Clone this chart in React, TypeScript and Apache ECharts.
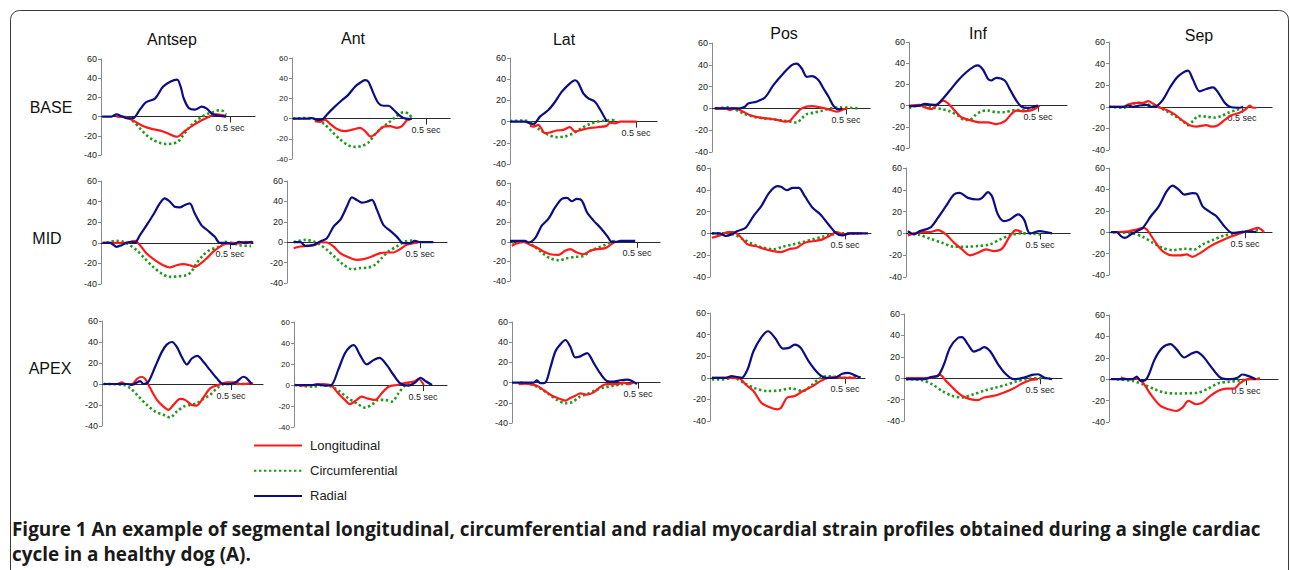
import React, { useEffect, useRef } from 'react';
import * as echarts from 'echarts';

// ---------------- categories / labels ----------------
const segments = ['Antsep', 'Ant', 'Lat', 'Pos', 'Inf', 'Sep'];
const levels = ['BASE', 'MID', 'APEX'];
const seriesNames = ['Longitudinal', 'Circumferential', 'Radial'];
const yTicks = { min: -40, max: 60, step: 20 };
const xTickValue = 0.5;
const xTickLabel = '0.5 sec';
const captionLines = [
  'Figure 1 An example of segmental longitudinal, circumferential and radial myocardial strain profiles obtained during a single cardiac',
  'cycle in a healthy dog (A).',
];

// ---------------- data: [time (s), strain (%)] ----------------
// BASE
const baseAntsepR = [[0.005,0],[0.04,0],[0.06,2.4],[0.08,0.3],[0.105,-2],[0.13,-0.7],[0.15,7],[0.175,15],[0.21,19],[0.24,31],[0.27,36.5],[0.295,38.5],[0.31,30],[0.32,19.5],[0.34,9],[0.365,7.3],[0.39,10.4],[0.41,8.3],[0.43,3],[0.46,0.7],[0.485,0]];
const baseAntsepL = [[0.06,0],[0.1,-0.7],[0.13,-5],[0.165,-10],[0.2,-13],[0.23,-14.6],[0.255,-17],[0.285,-20.5],[0.295,-21],[0.325,-15],[0.355,-9.4],[0.39,-3.8],[0.415,-0.7],[0.43,1.4],[0.445,2.4],[0.475,1.4],[0.485,0.3]];
const baseAntsepC = [[0.067,0],[0.1,-0.7],[0.125,-5],[0.15,-12],[0.175,-19],[0.2,-24],[0.23,-27.4],[0.255,-28.5],[0.28,-28],[0.3,-25.7],[0.32,-19],[0.34,-12],[0.365,-5],[0.39,-0.3],[0.415,3],[0.435,4.9],[0.46,6.6],[0.475,5.5],[0.485,2]];

const baseAntR = [[0.004,0],[0.066,0],[0.072,0.6],[0.0975,-1.6],[0.116,-0.3],[0.13,3.9],[0.154,10.4],[0.185,17.9],[0.21,23.5],[0.235,31.6],[0.254,35.5],[0.2725,38.1],[0.285,36.5],[0.304,25],[0.3225,15.3],[0.341,12.7],[0.36,12.7],[0.379,8.8],[0.3975,3.9],[0.416,0.6],[0.435,-0.3],[0.4475,0]];
const baseAntL = [[0.085,-2.6],[0.104,-3.3],[0.1225,-1],[0.141,-4.9],[0.166,-10],[0.1975,-12.4],[0.229,-10.7],[0.254,-9.1],[0.2725,-12.4],[0.294,-17.9],[0.316,-14],[0.341,-8.1],[0.366,-7.5],[0.391,-9.1],[0.41,-7.5],[0.429,-1.6],[0.441,-1]];
const baseAntC = [[0.004,0],[0.066,0.6],[0.0975,-1.6],[0.1225,-5.9],[0.1475,-12.4],[0.179,-20.5],[0.21,-26.4],[0.235,-28],[0.26,-27],[0.285,-23.8],[0.31,-15.6],[0.335,-9.1],[0.36,-4.2],[0.385,1.3],[0.416,6.2],[0.435,4.9],[0.4475,0.6]];

const baseLatR = [[0,0],[0.06,0],[0.086,-2.2],[0.099,-1.6],[0.119,4.7],[0.152,10.9],[0.179,18.75],[0.205,28],[0.238,36],[0.258,39],[0.271,36.6],[0.291,26.6],[0.311,21.9],[0.337,18.75],[0.357,11.6],[0.384,0]];
const baseLatL = [[0.079,-4],[0.093,-4.7],[0.112,-3.1],[0.139,-10.9],[0.159,-10.3],[0.185,-8.4],[0.212,-7.8],[0.238,-5.3],[0.258,-9.4],[0.284,-7.8],[0.311,-6.25],[0.344,-5.3],[0.384,-4],[0.397,-1],[0.417,-1.6],[0.437,0],[0.503,0]];
const baseLatC = [[0,0.6],[0.06,1],[0.086,-1.6],[0.119,-7.8],[0.152,-12.5],[0.185,-14.7],[0.218,-14],[0.251,-11],[0.284,-6.25],[0.317,-2.2],[0.35,0],[0.384,1],[0.403,1.6],[0.417,1]];

const basePosR = [[0.01,0],[0.104,0],[0.1225,1.5],[0.135,4.6],[0.166,6.1],[0.1975,10],[0.229,21.3],[0.266,32],[0.2975,39.6],[0.316,41],[0.335,36.6],[0.354,29],[0.3725,29.6],[0.3975,25.9],[0.416,18.3],[0.435,10.7],[0.454,2.1],[0.4725,-0.9],[0.485,0]];
const basePosL = [[0.01,0],[0.054,-0.3],[0.066,-1.5],[0.085,0],[0.116,-3],[0.141,-6.1],[0.179,-8.5],[0.216,-9.5],[0.2475,-10.7],[0.2725,-12.2],[0.291,-11.3],[0.31,-6.1],[0.335,0],[0.3725,2.1],[0.404,0.9],[0.435,-0.9],[0.466,-3],[0.485,-1.5],[0.504,0]];
const basePosC = [[0.016,0],[0.06,0.9],[0.085,-0.9],[0.116,-4.6],[0.154,-7.6],[0.191,-9.1],[0.229,-10],[0.266,-11.3],[0.2975,-12.2],[0.316,-13.1],[0.335,-9.1],[0.354,-5.2],[0.379,-4],[0.41,-2.1],[0.441,0],[0.479,0.9],[0.5475,0]];

const baseInfR = [[0,-0.6],[0.041,0],[0.061,1.6],[0.087,0.9],[0.106,0.6],[0.125,4.7],[0.158,14.2],[0.19,23.7],[0.222,31.5],[0.2545,37.2],[0.267,37.9],[0.287,33.8],[0.306,25.2],[0.319,23.7],[0.338,26.2],[0.371,23.7],[0.39,15.8],[0.416,4.7],[0.435,-0.9],[0.461,-2.2],[0.487,-0.9],[0.5,0]];
const baseInfL = [[0,0],[0.041,0.6],[0.061,-1.6],[0.087,-3.2],[0.112,1.6],[0.132,4.7],[0.151,2.2],[0.177,-4.7],[0.203,-11],[0.235,-13.6],[0.274,-15.8],[0.306,-15.8],[0.338,-17.4],[0.371,-14.8],[0.397,-7.9],[0.416,-4.7],[0.442,-5.4],[0.468,-4.7],[0.487,-3.2],[0.506,0]];
const baseInfC = [[0,-2.2],[0.035,0],[0.074,-0.9],[0.1,-2.2],[0.125,-3.2],[0.158,-5.4],[0.19,-9.5],[0.216,-13.6],[0.235,-13.6],[0.2545,-9.5],[0.28,-5.4],[0.306,-4.7],[0.338,-6.3],[0.371,-6.3],[0.397,-4.7],[0.422,-4.1],[0.455,-4.1],[0.487,-2.2]];

const baseSepR = [[0,0],[0.059,0],[0.071,1.2],[0.09,0],[0.115,1.2],[0.14,1.8],[0.159,0],[0.178,0.6],[0.203,6.7],[0.228,17.4],[0.253,26.5],[0.278,31.7],[0.297,33.5],[0.316,25],[0.341,14.3],[0.366,16.5],[0.391,18],[0.41,13.4],[0.435,3.7],[0.454,0],[0.491,-0.9],[0.504,0]];
const baseSepL = [[0,0],[0.053,0],[0.071,2.1],[0.103,3.7],[0.128,3.7],[0.147,5.2],[0.165,3],[0.184,0],[0.216,-3],[0.247,-7],[0.278,-13.1],[0.303,-17],[0.328,-18.3],[0.366,-17],[0.385,-18.3],[0.41,-17],[0.435,-12.2],[0.46,-7.9],[0.491,-5.5],[0.516,-1.8],[0.529,1.2],[0.541,-0.9],[0.554,-0.9]];
const baseSepC = [[0,0],[0.053,-0.9],[0.078,1.2],[0.103,3.7],[0.134,3],[0.159,1.2],[0.184,0],[0.216,-4],[0.247,-8.5],[0.278,-13.1],[0.297,-17],[0.316,-13.1],[0.335,-8.5],[0.366,-9.1],[0.397,-10],[0.423,-8.5],[0.448,-5.5],[0.479,-3],[0.504,-0.9]];

// MID
const midAntsepR = [[0.006,0],[0.035,0],[0.061,-3.9],[0.08,-2.3],[0.099,0],[0.119,1],[0.131,0],[0.151,7.5],[0.177,17.2],[0.202,27],[0.228,38.3],[0.247,43.2],[0.267,40],[0.286,35],[0.305,34.4],[0.325,36.7],[0.344,38.3],[0.363,28.6],[0.389,17.2],[0.415,11.7],[0.441,5.8],[0.46,0],[0.486,0],[0.512,-1.3],[0.537,1],[0.557,0],[0.582,1],[0.589,0]];
const midAntsepL = [[0.006,0],[0.099,0],[0.131,1.9],[0.151,-2.3],[0.177,-10.4],[0.209,-16.9],[0.241,-21.8],[0.267,-24],[0.293,-21.8],[0.318,-20.8],[0.344,-21.8],[0.363,-23.4],[0.383,-20.8],[0.409,-15.3],[0.434,-8.8],[0.46,-3.9],[0.479,-1.3],[0.512,0],[0.537,-0.6],[0.563,1],[0.582,-0.6]];
const midAntsepC = [[0.022,0],[0.061,1.9],[0.086,1],[0.112,-2.3],[0.138,-7.1],[0.17,-15.3],[0.202,-23.4],[0.235,-29.9],[0.267,-33.1],[0.299,-32.5],[0.331,-31.5],[0.35,-28.2],[0.37,-20.1],[0.396,-12],[0.421,-7.1],[0.454,-3.9],[0.479,1],[0.505,0],[0.537,-2.3],[0.582,-3.2]];

const midAntR = [[0.025,0],[0.05,0],[0.069,-3.6],[0.1,-2.6],[0.125,0.7],[0.15,3.9],[0.175,15.3],[0.2,21.8],[0.225,34.9],[0.244,44],[0.2625,41.4],[0.281,38.8],[0.3,39.7],[0.319,41.4],[0.3375,32.2],[0.3625,16.9],[0.3875,11.4],[0.4125,5.5],[0.4375,-1],[0.4625,-1],[0.48,1.3],[0.5,0],[0.55,0]];
const midAntL = [[0.025,-5.9],[0.05,-4.2],[0.081,-3.6],[0.106,-2.6],[0.125,0],[0.15,-0.3],[0.175,-4.2],[0.2,-10.7],[0.231,-14.7],[0.2625,-17.3],[0.2875,-16.6],[0.319,-14],[0.35,-10.7],[0.375,-10.1],[0.4,-10.1],[0.425,-6.8],[0.45,-2.6],[0.475,-1],[0.494,-0.3]];
const midAntC = [[0.025,0],[0.069,2.3],[0.1,0.7],[0.125,-2.6],[0.15,-7.5],[0.181,-14.7],[0.2125,-22.1],[0.244,-26.4],[0.275,-25.4],[0.306,-24.8],[0.331,-22.1],[0.356,-15.6],[0.381,-9.1],[0.4125,-4.2],[0.444,0.7],[0.469,1.6],[0.494,0]];

const midLatR = [[0,1],[0.059,1],[0.072,-0.7],[0.099,3.8],[0.125,16.4],[0.151,23.3],[0.178,35.3],[0.204,43.8],[0.224,44.9],[0.243,41.4],[0.263,43.8],[0.283,42.1],[0.303,30.1],[0.329,21.6],[0.355,14.7],[0.382,6.2],[0.401,0],[0.421,0],[0.434,1],[0.493,1]];
const midLatL = [[0.007,-4.1],[0.026,-1.7],[0.053,0],[0.079,-3.1],[0.105,-5.8],[0.132,-9.9],[0.158,-12.7],[0.191,-13.4],[0.217,-9.2],[0.237,-7.5],[0.263,-11],[0.289,-12.7],[0.316,-9.2],[0.342,-7.5],[0.375,-6.5],[0.395,-3.1],[0.414,0]];
const midLatC = [[0.007,-0.7],[0.059,0],[0.092,-4.1],[0.125,-11],[0.158,-16.8],[0.191,-18.8],[0.224,-16.8],[0.257,-15.4],[0.289,-14.4],[0.316,-9.2],[0.349,-5.8],[0.375,-3.1],[0.401,0.3],[0.421,1]];

const midPosR = [[0.007,0],[0.037,0],[0.058,-2.4],[0.08,-0.9],[0.102,2.1],[0.132,5.2],[0.161,15.9],[0.19,25],[0.219,37.2],[0.249,43.3],[0.263,42.7],[0.285,39.6],[0.307,41.8],[0.329,41.8],[0.351,34.1],[0.38,23.5],[0.409,17.4],[0.439,8.2],[0.468,0],[0.49,-1.8],[0.519,0],[0.585,0]];
const midPosL = [[0.007,-4],[0.037,-1.8],[0.066,1.2],[0.088,1.2],[0.11,-2.4],[0.139,-10.1],[0.168,-11.6],[0.205,-14.6],[0.234,-16.2],[0.263,-17.1],[0.292,-14.6],[0.322,-13.1],[0.351,-8.5],[0.387,-7],[0.417,-5.5],[0.446,-1.8],[0.468,1.2],[0.497,-0.9],[0.519,0],[0.563,0]];
const midPosC = [[0.007,0],[0.051,0],[0.088,-0.9],[0.124,-5.5],[0.161,-10.1],[0.197,-13.1],[0.234,-14.6],[0.27,-12.2],[0.307,-10.1],[0.344,-7.9],[0.38,-5.5],[0.417,-3],[0.453,-0.9],[0.49,0],[0.548,0]];

const midInfR = [[0.007,2.1],[0.03,-0.9],[0.052,2.1],[0.09,5.2],[0.119,14.3],[0.149,25],[0.179,35.7],[0.2,37.2],[0.231,32.6],[0.269,31.1],[0.284,32.6],[0.306,37.8],[0.321,34.1],[0.343,17.4],[0.366,11.3],[0.388,12.8],[0.418,17.4],[0.44,12.8],[0.463,0],[0.5,2.1],[0.522,1.2],[0.545,0]];
const midInfL = [[0.007,-1.8],[0.03,0],[0.06,1.2],[0.09,1.2],[0.119,3],[0.149,-0.9],[0.179,-8.5],[0.209,-14.6],[0.239,-20.1],[0.269,-17.7],[0.299,-14.6],[0.328,-16.2],[0.358,-14],[0.388,-2.4],[0.41,3],[0.433,1.2]];
const midInfC = [[0.007,0],[0.045,-0.9],[0.09,-4.9],[0.134,-8.5],[0.179,-12.2],[0.224,-12.2],[0.269,-11.6],[0.313,-10.1],[0.351,-5.5],[0.388,-1.8],[0.425,0],[0.463,0],[0.5,-0.9]];

const midSepR = [[0.007,0],[0.029,0],[0.044,-3.7],[0.058,-5.3],[0.08,-2.2],[0.102,0.9],[0.124,4],[0.154,14.9],[0.183,24.2],[0.212,38.2],[0.234,43.5],[0.256,39.8],[0.278,35.1],[0.307,36.6],[0.322,36],[0.344,24.2],[0.373,18.6],[0.395,14.9],[0.424,5.6],[0.453,-0.6],[0.482,0],[0.512,0.9],[0.541,0]];
const midSepL = [[0.015,0],[0.073,0.9],[0.102,2.5],[0.124,4],[0.139,2.5],[0.168,-8.4],[0.197,-17.7],[0.234,-21.7],[0.263,-21.7],[0.285,-20.8],[0.307,-23],[0.336,-19.3],[0.373,-13],[0.409,-8.4],[0.446,-4.3],[0.482,-1.2],[0.526,2.5],[0.548,4],[0.57,0]];
const midSepC = [[0.015,0],[0.088,-1.2],[0.124,-4.3],[0.161,-9.9],[0.197,-14.6],[0.234,-16.8],[0.278,-15.5],[0.314,-16.1],[0.344,-11.5],[0.38,-7.5],[0.424,-3.1],[0.468,-1.2],[0.504,0.9],[0.548,1.9]];

// APEX
const apexAntsepR = [[0.006,0],[0.097,0],[0.116,-0.9],[0.148,2.8],[0.161,0],[0.18,2.2],[0.206,16.4],[0.232,30.6],[0.251,37.5],[0.271,40],[0.29,35.3],[0.309,25.9],[0.329,18.6],[0.348,24.3],[0.37,26.8],[0.393,21.1],[0.419,13.2],[0.445,5.4],[0.47,0],[0.496,0],[0.522,2.2],[0.548,6.9],[0.561,5.4],[0.58,0]];
const apexAntsepL = [[0.006,0],[0.058,0],[0.077,1.6],[0.09,0],[0.116,0],[0.135,4.7],[0.152,6.9],[0.168,4.7],[0.187,-4.1],[0.213,-15.1],[0.238,-21.5],[0.258,-24.6],[0.277,-19.9],[0.303,-14.2],[0.322,-15.1],[0.348,-19.9],[0.367,-20.5],[0.393,-12.9],[0.419,-4.1],[0.451,-0.9],[0.483,1.6],[0.509,1.6],[0.535,0],[0.586,0.6]];
const apexAntsepC = [[0.006,0],[0.084,-0.9],[0.11,-4.1],[0.142,-12],[0.174,-19.9],[0.206,-26.2],[0.238,-29.3],[0.264,-31.9],[0.29,-26.2],[0.316,-21.5],[0.341,-19.9],[0.367,-18.3],[0.393,-14.2],[0.419,-10.4],[0.445,-4.1],[0.47,-0.3],[0.509,0],[0.561,0]];

const apexAntR = [[0.003,0],[0.074,0],[0.094,0.6],[0.119,-0.6],[0.145,0],[0.171,14.2],[0.197,30],[0.217,36.3],[0.232,37.9],[0.256,28.4],[0.282,19.6],[0.308,23.7],[0.331,25.9],[0.36,18.9],[0.386,9.5],[0.412,1.6],[0.444,-0.6],[0.47,2.5],[0.49,6.9],[0.509,3.8],[0.535,0]];
const apexAntL = [[0.003,0],[0.035,-0.6],[0.074,0],[0.113,0.9],[0.145,-0.6],[0.171,-7.9],[0.197,-14.2],[0.217,-18.3],[0.243,-14.2],[0.262,-11],[0.282,-12.6],[0.314,-14.2],[0.34,-7.9],[0.366,-1.6],[0.399,0],[0.425,1.6],[0.464,3.2],[0.483,5.7],[0.503,0]];
const apexAntC = [[0.003,0],[0.074,-1.6],[0.113,0],[0.145,-1.6],[0.178,-6.3],[0.21,-12.6],[0.243,-17.4],[0.275,-21.5],[0.301,-18.9],[0.327,-14.2],[0.353,-14.2],[0.379,-15.8],[0.405,-7.9],[0.431,0],[0.451,1.6]];

const apexLatR = [[0,0],[0.086,0],[0.099,2.3],[0.112,-0.6],[0.132,0],[0.152,14.6],[0.172,30.8],[0.192,38],[0.212,42.2],[0.231,35.7],[0.251,25],[0.271,26],[0.298,29.2],[0.324,19.5],[0.351,8.8],[0.377,1.6],[0.403,1],[0.43,2.3],[0.456,2.9],[0.476,1.6],[0.496,-1.6]];
const apexLatL = [[0.026,-1.6],[0.053,-1],[0.073,-1.6],[0.099,-3.2],[0.126,-7.5],[0.159,-13],[0.192,-16.2],[0.212,-17.9],[0.231,-15.3],[0.251,-13],[0.271,-10.7],[0.298,-12],[0.324,-9.7],[0.351,-4.2],[0.377,-1.6],[0.417,-1.6],[0.443,0],[0.463,-1.6],[0.483,0]];
const apexLatC = [[0.033,0],[0.066,-1],[0.106,-4.9],[0.146,-11.4],[0.179,-17.2],[0.212,-20.5],[0.238,-19.5],[0.265,-14.6],[0.298,-11.4],[0.331,-7.5],[0.364,-4.9],[0.403,-3.2],[0.437,-1.6],[0.47,-1]];

const apexPosR = [[0.007,0],[0.058,0],[0.08,1.5],[0.102,0.6],[0.117,0],[0.139,7.7],[0.161,24.6],[0.19,37.5],[0.215,43.1],[0.241,36.9],[0.27,27.1],[0.292,27.7],[0.314,30.8],[0.336,27.7],[0.365,15.4],[0.402,3.7],[0.431,0],[0.46,0],[0.49,3.7],[0.512,4.6],[0.534,2.5],[0.556,0]];
const apexPosL = [[0.007,0],[0.08,0],[0.11,-0.6],[0.132,-6.2],[0.161,-12.3],[0.19,-23.1],[0.219,-27.1],[0.249,-29.2],[0.263,-27.7],[0.285,-18.5],[0.314,-16.9],[0.344,-12.3],[0.38,-7.7],[0.409,-3.1],[0.439,0],[0.468,0.6],[0.504,0],[0.541,0]];
const apexPosC = [[0.007,-1.5],[0.051,-1.5],[0.088,0],[0.124,-4.6],[0.168,-9.8],[0.212,-12.3],[0.256,-11.7],[0.3,-9.8],[0.344,-12.3],[0.373,-7.7],[0.409,0],[0.446,1.5],[0.49,0],[0.563,0.6]];

const apexInfR = [[0.007,-0.9],[0.074,-0.9],[0.103,1.2],[0.125,2.2],[0.147,13],[0.169,28.5],[0.199,37.8],[0.213,38.4],[0.235,31.6],[0.257,24.8],[0.279,26.9],[0.294,29.1],[0.316,25.4],[0.346,13],[0.375,3.7],[0.404,-0.9],[0.441,0.6],[0.471,3.1],[0.493,3.7],[0.515,0.6],[0.544,-0.9]];
const apexInfL = [[0.007,0],[0.081,0],[0.11,1.2],[0.132,3.1],[0.154,-2.5],[0.184,-10.2],[0.213,-16.4],[0.243,-19.5],[0.272,-20.4],[0.294,-18],[0.331,-16.4],[0.368,-13.3],[0.404,-9.3],[0.434,-5],[0.463,-1.9],[0.493,-0.9]];
const apexInfC = [[0.007,-0.9],[0.066,-1.9],[0.103,-5.6],[0.14,-11.8],[0.176,-16.4],[0.213,-18],[0.257,-14.9],[0.294,-11.8],[0.338,-8.7],[0.375,-6.2],[0.412,-3.1],[0.449,-0.9],[0.493,0],[0.537,0]];

const apexSepR = [[0.007,0],[0.087,0],[0.101,2.5],[0.116,-1.6],[0.138,0.6],[0.167,18.75],[0.196,29.7],[0.225,32.8],[0.246,28.1],[0.275,20.3],[0.297,23.4],[0.319,25.6],[0.341,21.9],[0.37,12.5],[0.406,1.6],[0.442,0],[0.471,1.6],[0.486,4.4],[0.507,3.1],[0.536,0]];
const apexSepL = [[0.043,1.6],[0.072,0],[0.101,0.6],[0.123,-3.1],[0.152,-14.1],[0.188,-25],[0.217,-28.1],[0.246,-29.7],[0.268,-26.6],[0.29,-20.3],[0.319,-23.4],[0.341,-21.9],[0.37,-15.6],[0.399,-10.9],[0.428,-8.75],[0.457,-8.75],[0.478,-3.75],[0.507,0],[0.551,0]];
const apexSepC = [[0.029,0],[0.087,-1.6],[0.123,-4.7],[0.167,-9.4],[0.203,-12.5],[0.246,-13.4],[0.29,-13.1],[0.326,-12.5],[0.362,-8.75],[0.399,-3.75],[0.435,-2.5],[0.471,-1.6],[0.507,0],[0.551,0.6]];

// [longitudinal, circumferential, radial] per panel, row by row
const panelData = [
  [baseAntsepL, baseAntsepC, baseAntsepR], [baseAntL, baseAntC, baseAntR], [baseLatL, baseLatC, baseLatR],
  [basePosL, basePosC, basePosR], [baseInfL, baseInfC, baseInfR], [baseSepL, baseSepC, baseSepR],
  [midAntsepL, midAntsepC, midAntsepR], [midAntL, midAntC, midAntR], [midLatL, midLatC, midLatR],
  [midPosL, midPosC, midPosR], [midInfL, midInfC, midInfR], [midSepL, midSepC, midSepR],
  [apexAntsepL, apexAntsepC, apexAntsepR], [apexAntL, apexAntC, apexAntR], [apexLatL, apexLatC, apexLatR],
  [apexPosL, apexPosC, apexPosR], [apexInfL, apexInfC, apexInfR], [apexSepL, apexSepC, apexSepR],
];

// ---------------- layout (pixels): [yAxisX, x at 0.5 s, x-axis end, y of 60, y of -40] ----------------
const LAYOUT = [
  [101, 230, 255, 59, 155], [292, 426, 450, 58, 159], [510, 636, 657, 58, 164],
  [712, 846, 870, 43, 152], [909, 1038, 1067, 42, 148], [1109, 1242, 1272, 42, 150],
  [101, 230, 253, 181, 284], [287, 420, 447, 181, 283], [510, 637, 660, 183, 281],
  [710, 845, 871, 168, 277], [906, 1040, 1070, 168, 277], [1109, 1245, 1272, 168, 275],
  [102, 231, 263, 321, 426], [294, 423, 447, 322, 427], [512, 638, 660, 322, 423],
  [710, 845, 865, 313, 421], [904, 1040, 1062, 314, 421], [1109, 1246, 1278, 315, 422],
];
const LABEL_SIZE = [9, 8, 9, 9, 9, 9, 9, 9, 9, 9, 9, 9, 9, 8, 9, 9, 9, 9];
const TITLE_POS = [[172, 39], [353, 38], [564, 39], [784, 33], [978, 33], [1199, 35]];
const ROW_POS = [[51, 107], [47, 238], [50, 368]];

const FONT = "'Liberation Sans', Arial, sans-serif";
const COLORS = { L: '#ff1a1a', C: '#1f9a1f', R: '#0c0c85' };

function buildOption() {
  const grid: any[] = [];
  const xAxis: any[] = [];
  const yAxis: any[] = [];
  const series: any[] = [];
  LAYOUT.forEach(([ax, x05, xEnd, y60, ym40], i) => {
    const h = ym40 - y60;
    const zeroFromBottom = (h * (0 - yTicks.min)) / (yTicks.max - yTicks.min);
    grid.push({ left: ax, top: y60, width: xEnd - ax, height: h, containLabel: false });
    xAxis.push({
      type: 'value', gridIndex: i, min: 0, max: (xTickValue * (xEnd - ax)) / (x05 - ax),
      position: 'bottom', offset: -zeroFromBottom,
      axisLine: { onZero: false, lineStyle: { color: '#2a2a2a', width: 1.2 } },
      axisTick: { show: true, customValues: [xTickValue], length: 6, lineStyle: { color: '#2a2a2a', width: 1 } },
      axisLabel: { show: true, customValues: [xTickValue], formatter: () => xTickLabel, fontSize: 9, margin: 7, color: '#222', fontFamily: FONT },
      splitLine: { show: false },
    });
    yAxis.push({
      type: 'value', gridIndex: i, min: yTicks.min, max: yTicks.max, interval: yTicks.step,
      axisLine: { show: true, lineStyle: { color: '#8a8a8a', width: 1 } },
      axisTick: { show: true, length: 3, lineStyle: { color: '#8a8a8a' } },
      axisLabel: { fontSize: LABEL_SIZE[i], margin: 4, color: '#222', fontFamily: FONT },
      splitLine: { show: false },
    });
    const [dl, dc, dr] = panelData[i];
    series.push({
      name: seriesNames[1], type: 'line', xAxisIndex: i, yAxisIndex: i, data: dc, showSymbol: false, symbol: 'none', smooth: 0.3,
      lineStyle: { color: COLORS.C, width: 2.6, type: [2.4, 2.6] }, itemStyle: { color: COLORS.C }, z: 2,
    });
    series.push({
      name: seriesNames[0], type: 'line', xAxisIndex: i, yAxisIndex: i, data: dl, showSymbol: false, symbol: 'none', smooth: 0.3,
      lineStyle: { color: COLORS.L, width: 2.2 }, itemStyle: { color: COLORS.L }, z: 3,
    });
    series.push({
      name: seriesNames[2], type: 'line', xAxisIndex: i, yAxisIndex: i, data: dr, showSymbol: false, symbol: 'none', smooth: 0.3,
      lineStyle: { color: COLORS.R, width: 2.2 }, itemStyle: { color: COLORS.R }, z: 4,
    });
  });

  const graphic: any[] = [];
  graphic.push({
    type: 'rect', shape: { x: 10.5, y: 10.5, width: 1278, height: 620, r: 9 },
    style: { fill: 'none', stroke: '#3a3a3a', lineWidth: 1 }, silent: true,
  });
  segments.forEach((s, j) => {
    graphic.push({
      type: 'text', x: TITLE_POS[j][0], y: TITLE_POS[j][1],
      style: { text: s, fontSize: 16, fontFamily: FONT, fill: '#111', textAlign: 'center', textVerticalAlign: 'middle' },
    });
  });
  levels.forEach((s, j) => {
    graphic.push({
      type: 'text', x: ROW_POS[j][0], y: ROW_POS[j][1],
      style: { text: s, fontSize: 16, fontFamily: FONT, fill: '#111', textAlign: 'center', textVerticalAlign: 'middle' },
    });
  });
  captionLines.forEach((line, j) => {
    graphic.push({
      type: 'text', x: 12, y: 528.5 + j * 25.5,
      style: {
        text: line, fontSize: 18.9, fontWeight: 'bold', fontFamily: "'Open Sans', sans-serif",
        fill: '#1a1a1a', textAlign: 'left', textVerticalAlign: 'middle',
      },
    });
  });

  return {
    animation: false,
    backgroundColor: '#ffffff',
    grid, xAxis, yAxis, series, graphic,
    legend: {
      data: [seriesNames[0], seriesNames[1], seriesNames[2]],
      orient: 'vertical', left: 248, top: 434, itemWidth: 48, itemHeight: 14, itemGap: 12.2,
      itemStyle: { opacity: 0 },
      textStyle: { fontSize: 13, fontFamily: FONT, color: '#222', padding: [0, 0, 0, 3] },
      selectedMode: false,
    },
  };
}

export default function App() {
  const ref = useRef<HTMLDivElement>(null);
  useEffect(() => {
    const chart = echarts.init(ref.current as HTMLDivElement, null, { renderer: 'svg' });
    chart.setOption(buildOption() as any);
    return () => chart.dispose();
  }, []);
  return <div ref={ref} style={{ position: 'absolute', left: 0, top: 0, width: 1290, height: 570 }} />;
}
